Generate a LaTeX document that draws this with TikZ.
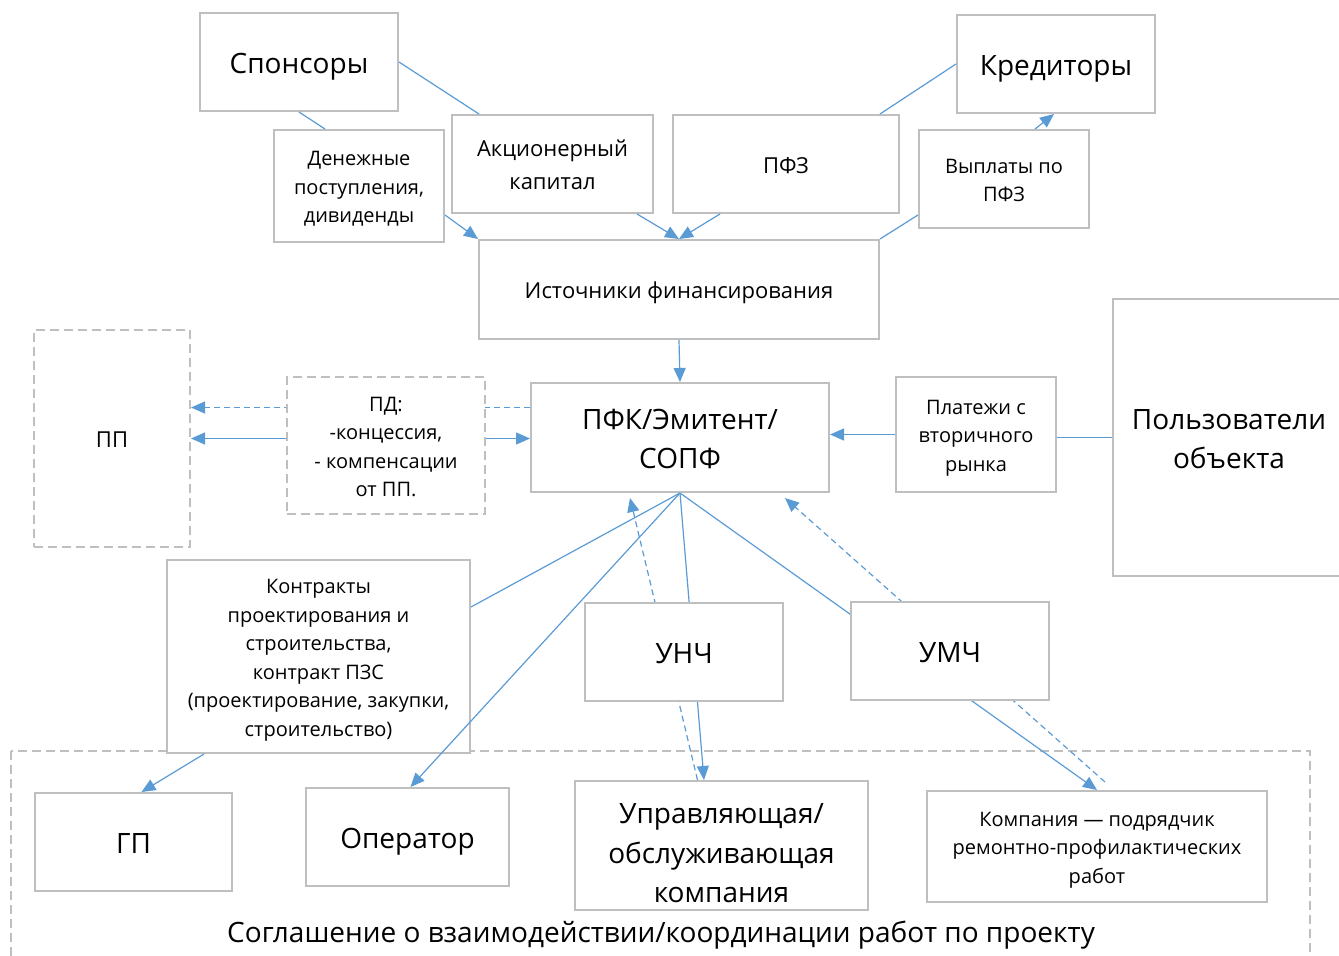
\documentclass[tikz,border=0pt]{standalone}
\usepackage{fontspec}
\setmainfont{Open Sans}
\usetikzlibrary{arrows.meta,backgrounds}
\definecolor{linkblue}{RGB}{91,155,213}
\definecolor{boxgray}{RGB}{191,191,191}
\newcommand{\linestrut}[2]{\rule[-#1]{0pt}{#2}}
\newcommand{\tstrut}{\rule[-0.251em]{0pt}{1.33em}}
\tikzset{
  box/.style={draw=boxgray, line width=2pt, fill=white, align=center, inner sep=0pt},
  dbox/.style={box, dash pattern=on 9pt off 5pt},
  txt/.style 2 args={execute at begin node={\linestrut{#1}{#2}}, execute at end node={\linestrut{#1}{#2}}},
  bigtxt/.style={txt={7pt}{37.2pt}, font=\fontsize{28}{39.5}\selectfont},
  midtxt/.style={txt={5.5pt}{29.3pt}, font=\fontsize{22}{33}\selectfont},
  smalltxt/.style={txt={5pt}{26.6pt}, font=\fontsize{20}{28.5}\selectfont},
  link/.style={draw=linkblue, line width=1.2pt},
  arr/.style={link, -{Triangle[length=14pt,width=12pt]}},
  dlink/.style={link, dash pattern=on 6pt off 4pt},
}

\begin{document}
\begin{tikzpicture}[x=1pt,y=-1pt]
\clip (0,0) rectangle (1339,956);
%Top row
\node[box,bigtxt,minimum width=198pt,minimum height=98pt] (spons) at (299,62) {Спонсоры};
\node[box,bigtxt,minimum width=198pt,minimum height=98pt] (kred) at (1056,64) {Кредиторы};
\node[box,smalltxt,minimum width=170pt,minimum height=112pt] (den) at (359,186) {\tstrut Денежные\\поступления,\\дивиденды\tstrut};
\node[box,midtxt,minimum width=201pt,minimum height=98pt] (akc) at (552.5,164) {\tstrut Акционерный\\капитал\tstrut};
\node[box,midtxt,minimum width=226pt,minimum height=98pt] (pfz) at (786,164) {ПФЗ};
\node[box,smalltxt,minimum width=170pt,minimum height=98pt] (vypl) at (1004,179) {\tstrut Выплаты по\\ПФЗ\tstrut};
\node[box,midtxt,minimum width=400pt,minimum height=99pt] (ist) at (679,289.5) {Источники финансирования};
%Middle row
\node[dbox,midtxt,minimum width=156pt,minimum height=217pt] (pp) at (112,438.5) {ПП};
\node[dbox,smalltxt,minimum width=198pt,minimum height=137pt] (pd) at (386,445.5) {\tstrut ПД:\\-концессия,\\- компенсации\\от ПП.\tstrut};
\node[box,bigtxt,minimum width=298pt,minimum height=109pt] (pfk) at (680,437.5) {\tstrut ПФК/Эмитент/\\СОПФ\tstrut};
\node[box,smalltxt,minimum width=160pt,minimum height=115pt] (plat) at (976,434.5) {\tstrut Платежи с\\вторичного\\рынка\tstrut};
\node[box,bigtxt,minimum width=232pt,minimum height=277pt] (polz) at (1229,437.5) {\tstrut Пользователи\\объекта\tstrut};
%Contracts
\node[box,smalltxt,minimum width=303pt,minimum height=193pt] (kontr) at (318.5,656.5) {\tstrut Контракты\\проектирования и\\строительства,\\контракт ПЗС\\(проектирование, закупки,\\строительство)\tstrut};
\node[box,bigtxt,minimum width=198pt,minimum height=98pt] (unch) at (684,652) {УНЧ};
\node[box,bigtxt,minimum width=198pt,minimum height=98pt] (umch) at (950,651) {УМЧ};
%Agreement
\node[box,bigtxt,minimum width=197pt,minimum height=98pt] (gp) at (133.5,842) {ГП};
\node[box,bigtxt,minimum width=203pt,minimum height=98pt] (oper) at (407.5,837) {Оператор};
\node[box,bigtxt,minimum width=293pt,minimum height=129pt] (upr) at (721.5,845.5) {\rule[-0.251em]{0pt}{1.76em}Управляющая/\\обслуживающая\\компания\tstrut};
\node[box,smalltxt,minimum width=340pt,minimum height=111pt] (komp) at (1097,846.5) {\tstrut Компания — подрядчик\\ремонтно-профилактических\\работ\tstrut};
\node[bigtxt] (sogl) at (661,931) {Соглашение о взаимодействии/координации работ по проекту};

%Connectors
\draw[link] (spons.east) -- ([xshift=28pt]akc.north west);
\draw[link] (spons.south) -- ([xshift=52pt]den.north west);
\draw[arr] ([yshift=-29pt]den.east) -- (ist.north west);
\draw[arr] ([xshift=-17pt]akc.south east) -- (ist.north);
\draw[arr] ([xshift=48pt]pfz.south west) -- (ist.north);
\draw[link] (kred.west) -- ([xshift=-20pt]pfz.north east);
\draw[arr] ([xshift=31pt]vypl.north) -- ([xshift=-2pt]kred.south);
\draw[link] (ist.north east) -- ([yshift=-36pt]vypl.west);
\draw[arr] (ist.south) -- (pfk.north);
\draw[arr] (plat.west) -- (plat.west -| pfk.east);
\draw[link] (polz.west) -- (polz.west -| plat.east);
\draw[arr] ([yshift=7pt]pd.east) -- ([yshift=7pt]pd.east -| pfk.west);
\draw[arr] ([yshift=7pt]pd.west) -- ([yshift=7pt]pd.west -| pp.east);
\draw[link] (pfk.south) -- ([yshift=49.5pt]kontr.east);
\draw[arr] (pfk.south) -- ([xshift=3pt]oper.north);
\draw[arr] ([xshift=38pt]kontr.south west) -- ([xshift=8pt]gp.north);

\begin{scope}[on background layer]
\draw[boxgray, line width=2pt, dash pattern=on 9pt off 5pt] (11,751) rectangle (1310,1000);
\draw[dlink, -{Triangle[length=14pt,width=12pt]}] ([yshift=30pt]pfk.west) -- ([yshift=30pt]pfk.west -| pp.east);
\draw[arr] (pfk.south) -- ([xshift=-17.5pt]upr.north);
\draw[dlink, -{Triangle[length=14pt,width=12pt]}] ([xshift=-24pt]upr.north) -- ([xshift=-50pt,yshift=-5pt]pfk.south);
\draw[arr] (pfk.south) -- (komp.north);
\draw[dlink, -{Triangle[length=14pt,width=12pt]}] ([xshift=8pt,yshift=8pt]komp.north) -- ([xshift=105pt,yshift=-5pt]pfk.south);
\end{scope}
\end{tikzpicture}
\end{document}
